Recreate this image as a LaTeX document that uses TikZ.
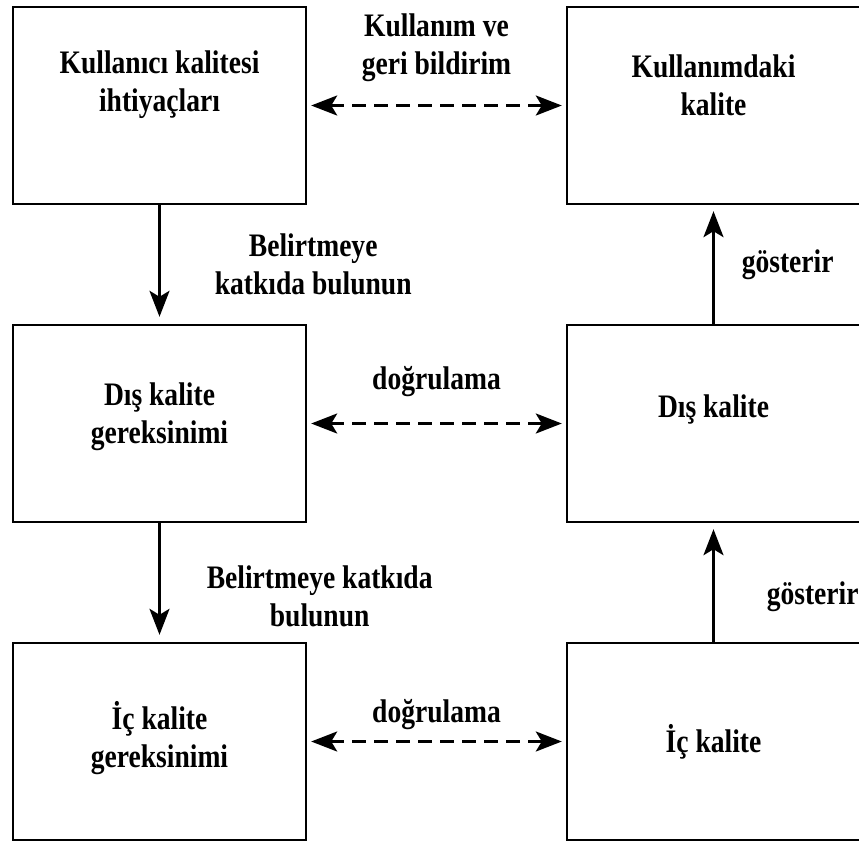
\documentclass[tikz,border=0pt]{standalone}
\usepackage{fontspec}
\setmainfont{Liberation Serif}[FakeStretch=0.84]
\usetikzlibrary{positioning, arrows.meta}

\begin{document}
\begin{tikzpicture}[
                font=\fontsize{16.4pt}{19pt}\selectfont\bfseries,
                >={Stealth[length=13pt, width=10pt, inset=3pt]},
                every edge/.style={draw, line width=1.3pt},
                box/.style={draw, line width=1.2pt, align=center, inner sep=0pt, minimum width=146.5pt, minimum height=98.5pt},
                lbl/.style={midway, align=center, inner sep=0pt},
                node distance=59.3pt and 129.3pt]

    \useasboundingbox (0,0) rectangle (429.5pt,-421.5pt);

    %%% NODES
    \node [box, text depth=24pt] (kullaniciihtiyac) at (79.75pt,-52.75pt) {Kullanıcı kalitesi\\ihtiyaçları};
    \node [box, text depth=20pt, right=of kullaniciihtiyac] (kullanimkalite) {Kullanımdaki\\kalite};
    \node [box, text depth=10pt, below=of kullaniciihtiyac] (disgereksinim) {Dış kalite\\gereksinimi};
    \node [box, text depth=17pt, below=of kullanimkalite] (diskalite) {Dış kalite};
    \node [box, text depth=7pt, below=of disgereksinim] (icgereksinim) {İç kalite\\gereksinimi};
    \node [box, below=of diskalite] (ickalite) {İç kalite};

    %%% CONNECTIONS
    \path (kullaniciihtiyac) edge [<->, dash pattern=on 7pt off 4pt, line width=1.5pt, shorten <=2pt, shorten >=2pt] node[lbl, above=11pt] {Kullanım ve\\geri bildirim}(kullanimkalite);
    \path (disgereksinim) edge [<->, dash pattern=on 7pt off 4pt, line width=1.5pt, shorten <=2pt, shorten >=2pt] node[lbl, above=12.5pt] {doğrulama}(diskalite);
    \path (icgereksinim) edge [<->, dash pattern=on 7pt off 4pt, line width=1.5pt, shorten <=2pt, shorten >=2pt] node[lbl, above=5pt] {doğrulama}(ickalite);
    \path (kullaniciihtiyac) edge [->, shorten >=3.5pt] node[lbl, right=27pt] {Belirtmeye\\katkıda bulunun}(disgereksinim);
    \path (disgereksinim) edge [->, shorten >=3.5pt] node[lbl, right=23pt, yshift=-7pt] {Belirtmeye katkıda\\bulunun}(icgereksinim);
    \path (diskalite) edge [->, shorten >=3pt] node[lbl, right=13.5pt] {gösterir}(kullanimkalite);
    \path (ickalite) edge [->, shorten >=3pt] node[lbl, right=26pt, yshift=-7pt] {gösterir}(diskalite);

\end{tikzpicture}
\end{document}
